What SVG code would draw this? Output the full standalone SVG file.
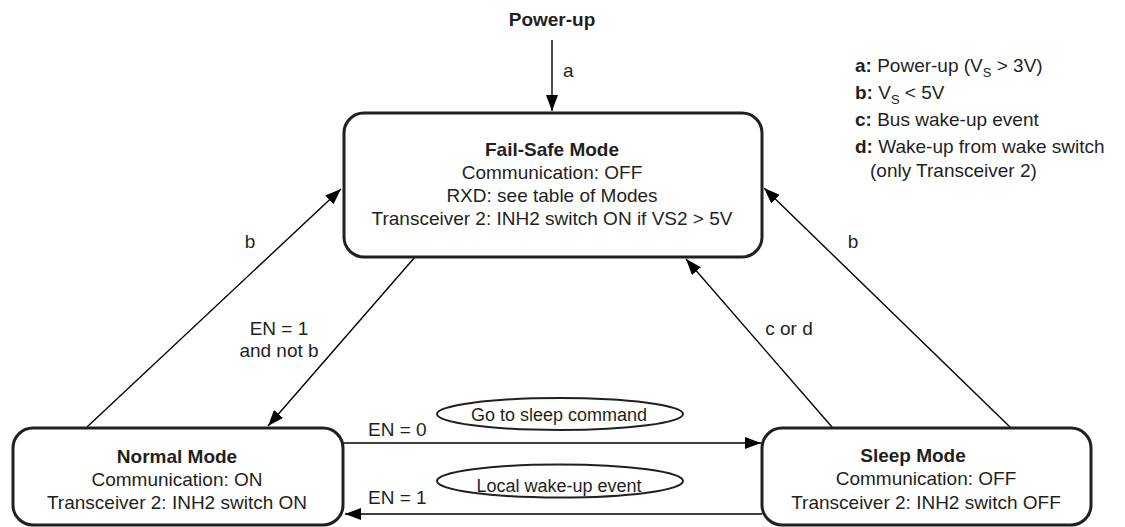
<svg xmlns="http://www.w3.org/2000/svg" width="1125" height="527" viewBox="0 0 1125 527">
<style>
text{font-family:"Liberation Sans",Arial,Helvetica,sans-serif;fill:#231f20;font-size:19px}
.b{font-weight:bold}
.m{text-anchor:middle}
.box{fill:#fff;stroke:#231f20;stroke-width:3}
.ell{fill:#fff;stroke:#231f20;stroke-width:2}
.c{fill:none;stroke:#000;stroke-width:1.4;marker-end:url(#ah)}
.e{font-size:18px}
.s{font-size:13px}
</style>
<defs>
<marker id="ah" markerUnits="userSpaceOnUse" markerWidth="17" markerHeight="12" refX="16" refY="6" orient="auto">
<path d="M0,0 L16,6 L0,12 z" fill="#000"/>
</marker>
</defs>
<rect width="1125" height="527" fill="#fff"/>
<g id="connectors">
<line class="c" x1="552" y1="40" x2="552" y2="111"/>
<line class="c" x1="87" y1="427" x2="341" y2="189"/>
<line class="c" x1="415" y1="257" x2="268" y2="426"/>
<line class="c" x1="832" y1="427" x2="686" y2="259"/>
<line class="c" x1="1010" y1="427" x2="764" y2="188"/>
<line class="c" x1="343" y1="443" x2="761" y2="443"/>
<line class="c" x1="762" y1="514" x2="345" y2="514"/>
<text x="563" y="77">a</text>
<text class="m" x="250" y="248">b</text>
<text class="m" x="279" y="335">EN = 1</text>
<text class="m" x="279" y="357">and not b</text>
<text class="m" x="789" y="335">c or d</text>
<text class="m" x="853" y="248">b</text>
<text x="368" y="436">EN = 0</text>
<text x="368" y="504">EN = 1</text>
</g>
<g id="power-up">
<text class="b m" x="552" y="26">Power-up</text>
</g>
<g id="fail-safe">
<rect class="box" x="344" y="113" width="418" height="144" rx="20"/>
<text class="b m" x="552" y="156">Fail-Safe Mode</text>
<text class="m" x="552" y="179">Communication: OFF</text>
<text class="m" x="552" y="202">RXD: see table of Modes</text>
<text class="m" x="552" y="225">Transceiver 2: INH2 switch ON if VS2 &gt; 5V</text>
</g>
<g id="normal">
<rect class="box" x="13" y="428" width="330" height="97" rx="20"/>
<text class="b m" x="177" y="463">Normal Mode</text>
<text class="m" x="177" y="486">Communication: ON</text>
<text class="m" x="177" y="509">Transceiver 2: INH2 switch ON</text>
</g>
<g id="sleep">
<rect class="box" x="762" y="428" width="329" height="97" rx="20"/>
<text class="b m" x="913" y="462">Sleep Mode</text>
<text class="m" x="926" y="485">Communication: OFF</text>
<text class="m" x="926" y="509">Transceiver 2: INH2 switch OFF</text>
</g>
<g id="go-to-sleep">
<ellipse class="ell" cx="560" cy="414" rx="123" ry="16"/>
<text class="m e" x="559" y="421">Go to sleep command</text>
</g>
<g id="local-wake">
<ellipse class="ell" cx="560" cy="481" rx="123" ry="16.5"/>
<text class="m e" x="559" y="492">Local wake-up event</text>
</g>
<g id="legend">
<text x="855" y="72"><tspan class="b">a:</tspan> Power-up (V<tspan class="s" dy="5">S</tspan><tspan dy="-5"> &gt; 3V)</tspan></text>
<text x="855" y="99"><tspan class="b">b:</tspan> V<tspan class="s" dy="5">S</tspan><tspan dy="-5"> &lt; 5V</tspan></text>
<text x="855" y="126"><tspan class="b">c:</tspan> Bus wake-up event</text>
<text x="855" y="153"><tspan class="b">d:</tspan> Wake-up from wake switch</text>
<text x="870" y="177">(only Transceiver 2)</text>
</g>
</svg>
